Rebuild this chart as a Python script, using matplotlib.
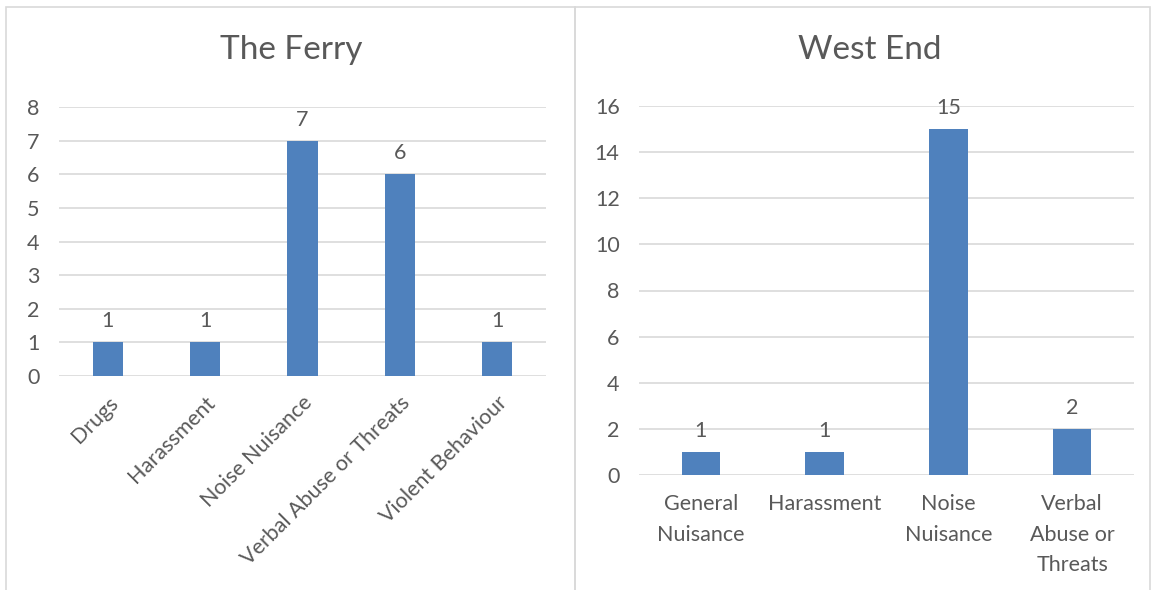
import matplotlib
matplotlib.use("Agg")
import matplotlib.pyplot as plt
from matplotlib.patches import Rectangle

ferry_categories = ["Drugs", "Harassment", "Noise Nuisance", "Verbal Abuse or Threats", "Violent Behaviour"]
ferry_values = [1, 1, 7, 6, 1]
ferry_yticks = [0, 1, 2, 3, 4, 5, 6, 7, 8]

west_categories = ["General\nNuisance", "Harassment", "Noise\nNuisance", "Verbal\nAbuse or\nThreats"]
west_values = [1, 1, 15, 2]
west_yticks = [0, 2, 4, 6, 8, 10, 12, 14, 16]

BAR = "#4F81BD"
TXT = "#595959"
GRID = "#D9D9D9"

plt.rcParams['font.family'] = ['Lato', 'DejaVu Sans']

W, H = 1157, 590
fig = plt.figure(figsize=(W / 100, H / 100), dpi=100)
fig.patch.set_facecolor("white")

def px_rect(x0, y0, x1, y1):
    return [x0 / W, 1 - y1 / H, (x1 - x0) / W, (y1 - y0) / H]

# panel borders
for (x0, x1) in [(6, 575), (575, 1150)]:
    r = Rectangle((x0 / W, 1 - 600 / H), (x1 - x0) / W, (600 - 7) / H,
                  transform=fig.transFigure, fill=False, edgecolor=GRID, linewidth=1.2)
    fig.add_artist(r)

FS = 15.5

def draw(ax, cats, vals, yticks, title, rotate, title_x):
    xs = list(range(len(cats)))
    ax.bar(xs, vals, width=0.31, color=BAR, zorder=3)
    ax.set_xlim(-0.5, len(cats) - 0.5)
    ax.set_ylim(yticks[0], yticks[-1])
    ax.set_yticks(yticks)
    ax.set_yticklabels([str(t) for t in yticks], fontsize=FS, color=TXT)
    ax.yaxis.grid(True, color=GRID, linewidth=1.2, zorder=0)
    ax.set_axisbelow(True)
    for s in ax.spines.values():
        s.set_visible(False)
    ax.tick_params(axis='both', length=0)
    ax.tick_params(axis='y', pad=14)
    ax.set_xticks(xs)
    if rotate:
        ax.set_xticklabels(cats, rotation=45, ha='right', rotation_mode='anchor',
                           fontsize=FS, color=TXT)
        ax.tick_params(axis='x', pad=12)
    else:
        ax.set_xticklabels(cats, fontsize=FS, color=TXT, linespacing=1.65, va='top')
        ax.tick_params(axis='x', pad=14)
    for x, v in zip(xs, vals):
        ax.annotate(str(v), (x, v), xytext=(0, 8), textcoords='offset points',
                    ha='center', va='bottom', fontsize=FS, color=TXT)
    fig.text(title_x / W, 1 - 50 / H, title, ha='center', va='center', fontsize=24, color=TXT)

ax1 = fig.add_axes(px_rect(59, 107, 546, 376))
draw(ax1, ferry_categories, ferry_values, ferry_yticks, "The Ferry", True, 291)

ax2 = fig.add_axes(px_rect(639, 106, 1134, 475))
draw(ax2, west_categories, west_values, west_yticks, "West End", False, 870)

fig.savefig("out.png", dpi=100, facecolor="white")
